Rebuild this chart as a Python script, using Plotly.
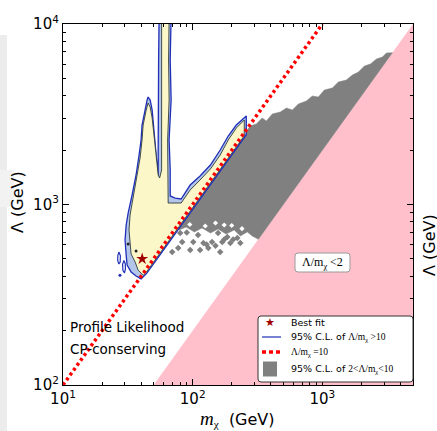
import math
import plotly.graph_objects as go

# ---------------- axes ----------------
x_lim = [10, 5000]
y_lim = [100, 10000]
x_major = [10, 100, 1000]
x_major_text = ["10<sup>1</sup>", "10<sup>2</sup>", "10<sup>3</sup>"]
y_major = [100, 1000, 10000]
y_major_text = ["10<sup>2</sup>", "10<sup>3</sup>", "10<sup>4</sup>"]
x_minor = [20, 30, 40, 50, 60, 70, 80, 90, 200, 300, 400, 500, 600, 700, 800, 900,
           2000, 3000, 4000, 5000]
y_minor = [200, 300, 400, 500, 600, 700, 800, 900, 2000, 3000, 4000, 5000, 6000,
           7000, 8000, 9000]

# ---------------- reference ratios ----------------
ratio_excluded = 2      # Lambda/m < 2 excluded (pink)
ratio_line = 10         # Lambda/m = 10 (red dotted)
line_m = [10, 1000]

# ---------------- 95% C.L. contour of Lambda/m > 10 (outer, blue) ----------------
outer_m = [55.1, 68.2, 67.1, 68.2, 65.8, 67.1, 67.1, 73.3, 81.5, 95.6, 114, 137, 163, 188, 217, 259,
           259, 230, 200, 170, 150, 125, 100, 85, 70, 58, 50, 44, 40.0,
           36.6, 33.5, 31.2, 30.7, 30.1, 30.7, 31.8, 34.1, 36.6, 38.6, 40.0, 40.7, 43.0, 44.5, 45.3,
           47.0, 48.7, 50.4, 52.3, 53.2, 54.2, 54.2, 54.2, 54.6, 55.1]
outer_L = [11000, 11000, 6320, 3790, 2277, 1553, 1115, 1086, 1073, 1282, 1439, 1655, 2004, 2396, 2756, 3093,
           2435, 2165, 1880, 1600, 1410, 1175, 940, 800, 658, 545, 470, 414, 387,
           402, 423, 462, 525, 636, 770, 897, 1129, 1457, 1880, 2277, 2756, 3424, 3790, 3940,
           3790, 3338, 2586, 2004, 1655, 1402, 2004, 3338, 6320, 11000]

# inner contour (black outline, yellow fill)
inner_m = [57.6, 65.8, 65.2, 65.8, 64.1, 64.7, 64.7, 81.5, 95.6, 114, 137, 163, 188, 217, 250,
           250, 230, 200, 170, 150, 125, 100, 85, 70, 58, 50, 44, 41.5,
           37.9, 36.0, 33.5, 32.9, 32.3, 32.9, 34.7, 37.3, 39.3, 40.7, 41.5, 43.8, 45.3, 47.0,
           48.7, 50.4, 52.3, 54.2, 55.6, 57.6, 57.6]
inner_L = [11000, 11000, 6320, 3790, 2277, 1553, 1019, 1019, 1203, 1367, 1573, 1880, 2277, 2653, 2938,
           2400, 2210, 1920, 1632, 1440, 1200, 960, 816, 672, 557, 480, 422, 405,
           434, 480, 532, 597, 722, 875, 1086, 1402, 1809, 2277, 2756, 3338, 3650, 3470,
           3015, 2396, 1809, 1457, 1402, 1553, 11000]

# small isolated contour islands
island1_m = [27.0, 27.7, 27.6, 27.0, 26.4, 26.5, 27.0]
island1_L = [545, 520, 480, 468, 490, 525, 545]
island2_m = [29.5, 30.2, 30.3, 29.8, 29.0, 28.8, 29.5]
island2_L = [490, 470, 440, 418, 430, 465, 490]
blue_dot_m = [27.5]
blue_dot_L = [406]
black_dot_m = [31.8, 36.6]
black_dot_L = [604, 552]

# ---------------- 95% C.L. of 2 < Lambda/m < 10 (gray) ----------------
gray_m = [76, 278, 309, 344, 370, 411, 474, 528, 587, 653, 752, 837, 931, 1036, 1194, 1329, 1531,
          1705, 1897, 2110, 2348, 2612, 2906, 3119, 3470, 321, 288, 264, 233, 209, 181, 157, 137,
          118, 103, 89, 78.7]
gray_L = [722, 2722, 2793, 3015, 2901, 3173, 3254, 3424, 3338, 3605, 3745, 3991, 3940, 4309, 4420,
          4772, 4895, 5218, 5420, 5852, 6003, 6397, 6565, 6907, 6940, 642, 669, 705, 669, 723, 687,
          731, 695, 741, 705, 750, 723]
speck_m = [69.5, 77.3, 80.1, 83.0, 95.7, 101, 110, 114, 121, 132, 141, 157, 163, 169, 185, 195,
           221, 233, 90, 128, 150, 175, 205]
speck_L = [546, 574, 695, 620, 560, 620, 678, 560, 612, 574, 620, 695, 546, 620, 661, 612,
           652, 612, 700, 600, 590, 640, 640]
hole_m = [95, 125, 150, 175, 200, 240]
hole_L = [775, 760, 790, 770, 765, 735]

# best fit
best_m = [40.8]
best_L = [500]

# legend labels
legend_labels = ["Best fit", "95% C.L. of {Λ/m<sub>χ</sub> &gt;10}", "{Λ/m<sub>χ</sub> =10}",
                 "95% C.L. of {2&lt;Λ/m<sub>χ</sub>&lt;10}"]

SERIF = "Liberation Serif"
BLUE = "#1f2fb8"
GRAY = "#808080"


def mtxt(s):
    return s.replace("{", "<span style='font-family:%s'>" % SERIF).replace("}", "</span>")


fig = go.Figure()

# pink excluded region Lambda < 2 m
pm0 = y_lim[0] / ratio_excluded
fig.add_trace(go.Scatter(
    x=[pm0, x_lim[1], x_lim[1], pm0],
    y=[y_lim[0], x_lim[1] * ratio_excluded, y_lim[0], y_lim[0]],
    mode="lines", fill="toself", fillcolor="#ffc0cb", line=dict(width=0, color="#ffc0cb"),
    showlegend=False, hoverinfo="skip"))

# gray region
fig.add_trace(go.Scatter(x=gray_m, y=gray_L, mode="lines", fill="toself", fillcolor=GRAY,
                         line=dict(width=0.5, color=GRAY), showlegend=False, hoverinfo="skip"))
fig.add_trace(go.Scatter(x=speck_m, y=speck_L, mode="markers",
                         marker=dict(symbol="diamond", size=5, color=GRAY, line=dict(width=0)),
                         showlegend=False, hoverinfo="skip"))
fig.add_trace(go.Scatter(x=hole_m, y=hole_L, mode="markers",
                         marker=dict(symbol="diamond", size=4, color="white", line=dict(width=0)),
                         showlegend=False, hoverinfo="skip"))

# contour Lambda/m > 10
fig.add_trace(go.Scatter(x=outer_m, y=outer_L, mode="lines", fill="toself", fillcolor="#b3c6ea",
                         line=dict(width=1.3, color=BLUE), showlegend=False, hoverinfo="skip"))
fig.add_trace(go.Scatter(x=inner_m, y=inner_L, mode="lines", fill="toself", fillcolor="#fcf7c9",
                         line=dict(width=0.9, color="#2f3b3b"), showlegend=False, hoverinfo="skip"))
for im, il in [(island1_m, island1_L), (island2_m, island2_L)]:
    fig.add_trace(go.Scatter(x=im, y=il, mode="lines", line=dict(width=1.2, color=BLUE),
                             showlegend=False, hoverinfo="skip"))
fig.add_trace(go.Scatter(x=blue_dot_m, y=blue_dot_L, mode="markers",
                         marker=dict(size=3, color=BLUE), showlegend=False, hoverinfo="skip"))
fig.add_trace(go.Scatter(x=black_dot_m, y=black_dot_L, mode="markers",
                         marker=dict(size=3, color="#222222"), showlegend=False, hoverinfo="skip"))

# red dotted Lambda = 10 m
fig.add_trace(go.Scatter(x=line_m, y=[v * ratio_line for v in line_m], mode="lines",
                         line=dict(color="red", width=3.5, dash="3px,3px"),
                         showlegend=False, hoverinfo="skip"))

# best fit
fig.add_trace(go.Scatter(x=best_m, y=best_L, mode="markers",
                         marker=dict(symbol="star", size=9, color="#a00000", line=dict(width=0)),
                         showlegend=False))

# mirror axes helper trace
fig.add_trace(go.Scatter(x=[x_lim[0]], y=[y_lim[0]], xaxis="x2", yaxis="y2", mode="markers",
                         marker=dict(opacity=0), showlegend=False, hoverinfo="skip"))

x_range = [math.log10(x_lim[0]), math.log10(x_lim[1])]
y_range = [math.log10(y_lim[0]), math.log10(y_lim[1])]

axis_common = dict(type="log", ticks="inside", ticklen=6, tickwidth=1, tickcolor="black",
                   showline=True, linecolor="black", linewidth=1.2, showgrid=False, zeroline=False,
                   tickfont=dict(size=15, family="DejaVu Sans", color="black"))


def minor(vals):
    return dict(tickmode="array", tickvals=vals, ticks="inside", ticklen=3,
                tickcolor="black", showgrid=False)


W, H = 437, 431
ML, MR, MT, MB = 63, 24, 24, 46
PW, PH = W - ML - MR, H - MT - MB

fig.update_layout(
    width=W, height=H,
    margin=dict(l=ML, r=MR, t=MT, b=MB),
    paper_bgcolor="white", plot_bgcolor="white",
    font=dict(family="DejaVu Sans", color="black"),
    xaxis=dict(range=x_range, tickmode="array", tickvals=x_major, ticktext=x_major_text,
               minor=minor(x_minor), **axis_common),
    yaxis=dict(range=y_range, tickmode="array", tickvals=y_major, ticktext=y_major_text,
               minor=minor(y_minor), **axis_common),
    xaxis2=dict(range=x_range, overlaying="x", side="top", anchor="y", tickmode="array",
                tickvals=x_major, showticklabels=False, minor=minor(x_minor), **axis_common),
    yaxis2=dict(range=y_range, overlaying="y", side="right", anchor="x", tickmode="array",
                tickvals=y_major, showticklabels=False, minor=minor(y_minor), **axis_common),
    showlegend=False,
)


def px(x):
    return (x - ML) / PW


def py(y):
    return (H - MB - y) / PH


def rounded_rect(x0, y0, x1, y1, r=3):
    # pixel box -> paper path with rounded corners
    X0, X1 = px(x0), px(x1)
    Y0, Y1 = py(y1), py(y0)  # Y0 bottom, Y1 top
    rx, ry = r / PW, r / PH
    return ("M {a},{Y0} L {b},{Y0} Q {X1},{Y0} {X1},{c} L {X1},{d} Q {X1},{Y1} {b},{Y1} "
            "L {a},{Y1} Q {X0},{Y1} {X0},{d} L {X0},{c} Q {X0},{Y0} {a},{Y0} Z").format(
        a=X0 + rx, b=X1 - rx, c=Y0 + ry, d=Y1 - ry, X0=X0, X1=X1, Y0=Y0, Y1=Y1)


shapes = []
# left strip (edge of neighbouring panel)
shapes.append(dict(type="rect", xref="paper", yref="paper", x0=px(0), x1=px(7), y0=py(431),
                   y1=py(35), fillcolor="#ececec", line=dict(width=0), layer="below"))
shapes.append(dict(type="rect", xref="paper", yref="paper", x0=px(0), x1=px(14), y0=py(207),
                   y1=py(170), fillcolor="#f2f2f2", line=dict(width=0), layer="below"))
shapes.append(dict(type="circle", xref="paper", yref="paper", x0=px(-6), x1=px(5), y0=py(121),
                   y1=py(102), fillcolor="#ececec", line=dict(width=0), layer="below"))
# Lambda/m < 2 box
shapes.append(dict(type="path", xref="paper", yref="paper", path=rounded_rect(295, 253, 350, 272),
                   fillcolor="white", line=dict(color="#9a9a9a", width=1)))
# legend box
shapes.append(dict(type="path", xref="paper", yref="paper", path=rounded_rect(258, 316, 413, 382),
                   fillcolor="white", line=dict(color="#333333", width=1)))
leg_y = [322, 337, 352, 369]
shapes.append(dict(type="line", xref="paper", yref="paper", x0=px(262), x1=px(281),
                   y0=py(leg_y[1]), y1=py(leg_y[1]), line=dict(color=BLUE, width=1.2)))
shapes.append(dict(type="line", xref="paper", yref="paper", x0=px(262), x1=px(283),
                   y0=py(leg_y[2]), y1=py(leg_y[2]), line=dict(color="red", width=3.5, dash="4px,3px")))
shapes.append(dict(type="rect", xref="paper", yref="paper", x0=px(263), x1=px(277),
                   y0=py(leg_y[3] + 7.5), y1=py(leg_y[3] - 7.5), fillcolor=GRAY, line=dict(width=0)))
fig.update_layout(shapes=shapes)


def note(text, x, y, size, xanchor="center", **kw):
    d = dict(text=text, x=px(x), y=py(y), xref="paper", yref="paper", showarrow=False,
             xanchor=xanchor, yanchor="middle", font=dict(size=size, **kw.pop("font", {})))
    d.update(kw)
    return d


ann = [
    note(mtxt("{Λ/m<sub>χ</sub> &lt;2}"), 322.5, 262.5, 12, font=dict(family=SERIF)),
    note("Profile Likelihood", 68, 327, 13.5, xanchor="left"),
    note("CP-conserving", 68, 349, 13.5, xanchor="left"),
    note("Λ (GeV)", 18, 202, 16, textangle=-90),
    note("Λ (GeV)", 430, 245, 16, textangle=-90),
    note("<span style='font-family:%s;font-size:19px'><i>m</i></span>"
         "<span style='font-family:%s'><sub>χ</sub></span>  (GeV)" % (SERIF, SERIF), 237, 419, 16),
    note("★", 270, leg_y[0], 11, font=dict(color="#a00000")),
]
for lbl, yy in zip(legend_labels, leg_y):
    ann.append(note(mtxt(lbl), 289, yy, 9.5, xanchor="left"))
fig.update_layout(annotations=ann)

fig.write_html("out.html", config={"displayModeBar": False},
               post_script="document.body.style.margin='0px';")
